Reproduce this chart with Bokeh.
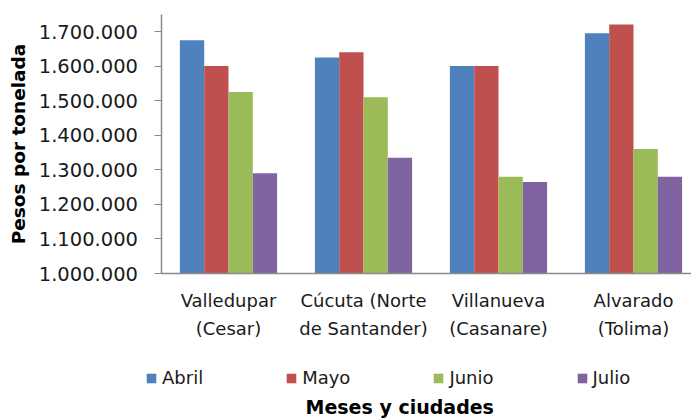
from bokeh.plotting import figure
from bokeh.models import (Range1d, FixedTicker, Legend, LegendItem, Label, ColumnDataSource)
from bokeh.embed import file_html
from bokeh.resources import INLINE

# ---- data ----
cities = ["Valledupar\n(Cesar)", "Cúcuta (Norte\nde Santander)", "Villanueva\n(Casanare)", "Alvarado\n(Tolima)"]
months = ["Abril", "Mayo", "Junio", "Julio"]
abril = [1675000, 1625000, 1600000, 1695000]
mayo = [1600000, 1640000, 1600000, 1720000]
junio = [1525000, 1510000, 1280000, 1360000]
julio = [1290000, 1335000, 1265000, 1280000]
y_ticks = [1000000, 1100000, 1200000, 1300000, 1400000, 1500000, 1600000, 1700000]
y_tick_labels = ["1.000.000", "1.100.000", "1.200.000", "1.300.000",
                 "1.400.000", "1.500.000", "1.600.000", "1.700.000"]
colors = ["#4F81BD", "#C0504D", "#9BBB59", "#8064A2"]

FONT = "DejaVu Sans"
W, H = 691, 418
AX_X = 160.5        # canvas x of the y axis
AX_Y = 273.0        # canvas y of the x axis
cat_px = 135.0      # pixels per category
val_px = 34.57      # pixels per 100.000
Y0, Y1 = 1000000, 1750000

x_start = -AX_X / cat_px
x_end = (W - AX_X) / cat_px
y_end = Y0 + AX_Y / val_px * 100000
y_start = Y0 - (H - AX_Y) / val_px * 100000

p = figure(width=W, height=H, output_backend="svg", toolbar_location=None,
           x_range=Range1d(x_start, x_end), y_range=Range1d(y_start, y_end),
           min_border_left=0, min_border_right=0, min_border_top=0,
           min_border_bottom=0)
p.outline_line_color = None
p.xgrid.visible = False
p.ygrid.visible = False

series = [abril, mayo, junio, julio]
offsets = [-0.27, -0.09, 0.09, 0.27]
bar_w = 0.18
renderers = []
for vals, off, col in zip(series, offsets, colors):
    src = ColumnDataSource(dict(x=[i + 0.5 + off for i in range(len(cities))], top=vals))
    r = p.vbar(x="x", top="top", bottom=Y0, width=bar_w, source=src,
               fill_color=col, line_color=None)
    renderers.append(r)

# axes
ax = p.xaxis[0]
ax.fixed_location = Y0
ax.bounds = (0, x_end)
ax.ticker = FixedTicker(ticks=[i + 0.5 for i in range(len(cities))])
ax.major_label_overrides = {i + 0.5: c for i, c in enumerate(cities)}
ax.major_tick_out = 0
ax.major_tick_in = 0
ax.minor_tick_out = 0
ax.minor_tick_in = 0
ax.axis_line_color = "#8a8a8a"
ax.axis_line_width = 1.5
ax.major_label_text_font = FONT
ax.major_label_text_font_size = "18px"
ax.major_label_text_color = "#1a1a1a"
ax.major_label_text_line_height = 1.38
ax.major_label_standoff = 16

ay = p.yaxis[0]
ay.fixed_location = 0
ay.bounds = (Y0, Y1)
ay.ticker = FixedTicker(ticks=y_ticks)
ay.major_label_overrides = {t: l for t, l in zip(y_ticks, y_tick_labels)}
ay.major_tick_out = 7
ay.major_tick_in = 0
ay.minor_tick_out = 0
ay.minor_tick_in = 0
ay.axis_line_color = "#8a8a8a"
ay.major_tick_line_color = "#8a8a8a"
ay.axis_line_width = 1.5
ay.major_label_text_font = FONT
ay.major_label_text_font_size = "19.5px"
ay.major_label_text_color = "#1a1a1a"
ay.major_label_standoff = 16
ay.axis_label = "Pesos por tonelada"
ay.axis_label_text_font = FONT
ay.axis_label_text_font_style = "bold"
ay.axis_label_text_font_size = "18.5px"
ay.axis_label_text_color = "#000000"
ay.axis_label_standoff = 7

# legend (positions in screen px from the frame's bottom-left)
items = [LegendItem(label=m, renderers=[r]) for m, r in zip(months, renderers)]
legend = Legend(items=items, orientation="horizontal", location=(145, 30),
                glyph_width=12, glyph_height=12, label_standoff=5, spacing=82,
                padding=0, margin=0, border_line_color=None,
                background_fill_alpha=0,
                label_text_font=FONT, label_text_font_size="18px",
                label_text_color="#1a1a1a")
p.add_layout(legend, "center")

xt = Label(x=305, y=12, x_units="screen", y_units="screen",
           text="Meses y ciudades", text_font=FONT, text_font_style="bold",
           text_font_size="19px", text_color="#000000", text_baseline="alphabetic")
p.add_layout(xt)

open("out.html", "w").write(file_html(p, INLINE))
